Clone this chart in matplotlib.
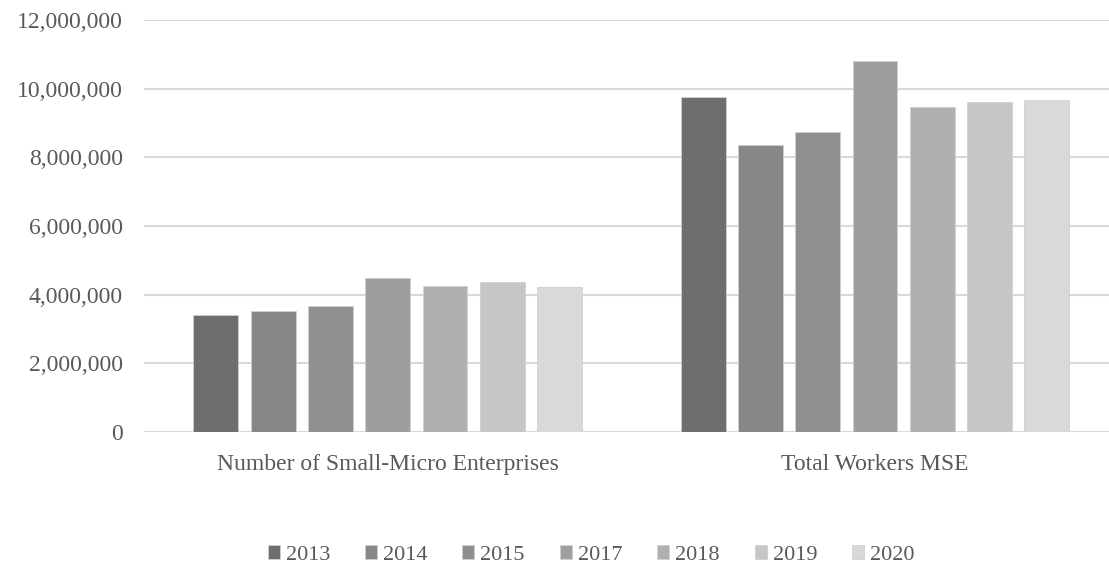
import numpy as np
import matplotlib.pyplot as plt
from matplotlib.ticker import FuncFormatter

plt.rcParams['font.family'] = ['Liberation Serif', 'DejaVu Serif']

# Small-micro enterprise figures by year
categories = ['Number of Small-Micro Enterprises', 'Total Workers MSE']
years = ['2013', '2014', '2015', '2017', '2018', '2019', '2020']
values = {
    '2013': [3410000, 9750000],
    '2014': [3520000, 8370000],
    '2015': [3670000, 8750000],
    '2017': [4490000, 10800000],
    '2018': [4260000, 9460000],
    '2019': [4370000, 9600000],
    '2020': [4230000, 9670000],
}
colors = ['#6e6e6e', '#878787', '#8f8f8f', '#9e9e9e', '#b0b0b0', '#c6c6c6', '#d9d9d9']

fig = plt.figure(figsize=(11.09, 5.67), dpi=100)
ax = fig.add_axes([0.1298, 0.238, 0.879, 0.7266])

x = np.arange(len(categories))
step = 0.1175
width = 0.092
for i, yr in enumerate(years):
    offset = (i - (len(years) - 1) / 2) * step
    ax.bar(x + offset, values[yr], width, color=colors[i], label=yr,
           edgecolor='#d0d0d0', linewidth=0.6, zorder=3)

ax.set_xlim(-0.5, 1.5)
ax.set_ylim(0, 12000000)
ax.set_yticks(np.arange(0, 12000001, 2000000))
ax.yaxis.set_major_formatter(FuncFormatter(lambda v, p: f'{int(v):,}'))
ax.set_xticks(x)
ax.set_xticklabels(categories)
ax.grid(axis='y', color='#d9d9d9', linewidth=1.5, zorder=0)
for s in ax.spines.values():
    s.set_visible(False)
ax.tick_params(axis='both', length=0, labelsize=17, colors='#595959')
ax.tick_params(axis='y', pad=15)
ax.tick_params(axis='x', pad=16)

fig.legend(*ax.get_legend_handles_labels(), loc='center', bbox_to_anchor=(0.533, 0.021),
           ncol=7, frameon=False, fontsize=16, handlelength=0.54, handleheight=0.54,
           handletextpad=0.27, columnspacing=1.57, labelcolor='#595959')

fig.savefig('out.png', dpi=100)
